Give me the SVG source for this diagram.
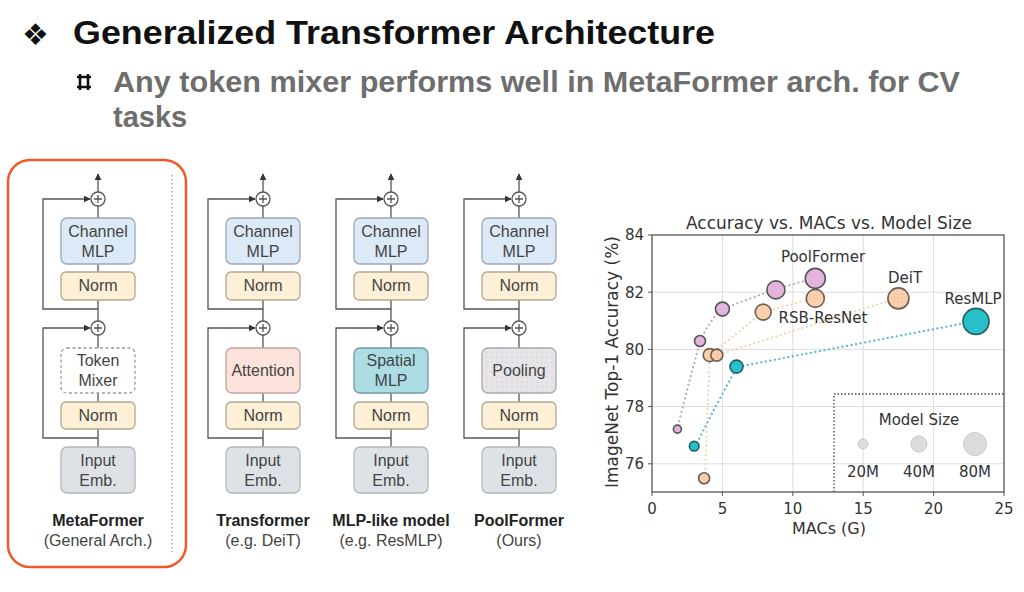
<svg xmlns="http://www.w3.org/2000/svg" width="1024" height="592" viewBox="0 0 1024 592">
<defs>
<marker id="ah" viewBox="0 0 10 10" refX="9" refY="5" markerWidth="7" markerHeight="7" markerUnits="userSpaceOnUse" orient="auto">
<path d="M0,0 L10,5 L0,10 z" fill="#333"/>
</marker>
<pattern id="pd" width="5" height="5" patternUnits="userSpaceOnUse">
<rect width="5" height="5" fill="#e6e6e8"/>
<circle cx="2" cy="2" r="0.6" fill="#e8a0d0"/>
</pattern>
<pattern id="od" width="4" height="4" patternUnits="userSpaceOnUse">
<rect width="4" height="4" fill="#f9cfae"/>
<circle cx="2" cy="2" r="0.5" fill="#e88a8a"/>
</pattern>
</defs>
<style>
.t{font-family:"Liberation Sans",Arial,sans-serif}
.bx{stroke-width:1.3}
.cm{fill:#dce9f6;stroke:#9aa8b8}
.nm{fill:#fdf0d6;stroke:#b3a88e}
.ie{fill:#dee2e7;stroke:#b2b7bd}
.at{fill:#fde3dc;stroke:#c0a49c}
.sp{fill:#acdde4;stroke:#6f9ca3}
.po{fill:url(#pd);stroke:#a9a9ad}
.tm{fill:#fff;stroke:#999;stroke-dasharray:3 2.5}
.bt{font-family:"Liberation Sans",Arial,sans-serif;font-size:16px;fill:#444;text-anchor:middle}
.lb{font-family:"Liberation Sans",Arial,sans-serif;font-size:16px;fill:#222;text-anchor:middle;font-weight:bold}
.ls{font-family:"Liberation Sans",Arial,sans-serif;font-size:16px;fill:#444;text-anchor:middle}
.ln{stroke:#555;stroke-width:1.3;fill:none}
.pl{fill:#fff;stroke:#555;stroke-width:1.3}
.ch{font-family:"DejaVu Sans",sans-serif;fill:#333}
.grid{stroke:#dcdcdc;stroke-width:1}
.dp{fill:none;stroke:#bfaabd;stroke-width:2.2;stroke-linecap:round;stroke-dasharray:0.1 4.5}
.dor{fill:none;stroke:#f6d3b0;stroke-width:2.2;stroke-linecap:round;stroke-dasharray:0.1 4.5}
.dt{fill:none;stroke:#5db6d6;stroke-width:2.2;stroke-linecap:round;stroke-dasharray:0.1 4.5}
.pk{fill:#e3b5dd;stroke:#555;stroke-width:1.6}
.or{fill:#f9cfae;stroke:#6d5d4e;stroke-width:1.6}
.tl{fill:#29c0cc;stroke:#1f5d63;stroke-width:1.6}
.lg{fill:#dcdcdc;stroke:#c9c9c9;stroke-width:1}
</style>

<g id="title">
<text x="22" y="45" font-family="DejaVu Sans,sans-serif" font-size="30" fill="#111">❖</text>
<text x="73" y="44" class="t" font-size="34" font-weight="bold" fill="#111" textLength="642" lengthAdjust="spacingAndGlyphs">Generalized Transformer Architecture</text>
<path d="M77,77 H91 M77,87 H91 M80,74 V90 M88,74 V90" stroke="#111" stroke-width="2.6" fill="none"/>
<text x="113" y="92" class="t" font-size="29" font-weight="bold" fill="#6e6e6e" textLength="847" lengthAdjust="spacingAndGlyphs">Any token mixer performs well in MetaFormer arch. for CV</text>
<text x="113" y="127" class="t" font-size="29" font-weight="bold" fill="#6e6e6e">tasks</text>
</g>

<g id="metaformer-frame">
<rect x="8" y="160" width="178" height="407" rx="22" fill="none" stroke="#f05a28" stroke-width="2.5"/>
<line x1="172" y1="175" x2="172" y2="552" stroke="#999" stroke-width="1.3" stroke-dasharray="1.5 2.5"/>
</g>

<g id="connectors">
<path class="ln" d="M98,192 V174" marker-end="url(#ah)"/>
<path class="ln" d="M98,206 V218 M98,264 V272 M98,300 V321 M98,335 V348 M98,393 V402 M98,429 V447"/>
<path class="ln" d="M98,309 H43 V199 H90" marker-end="url(#ah)"/>
<path class="ln" d="M98,438 H43 V328 H90" marker-end="url(#ah)"/>
<path class="ln" d="M263,192 V174" marker-end="url(#ah)"/>
<path class="ln" d="M263,206 V218 M263,264 V272 M263,300 V321 M263,335 V348 M263,393 V402 M263,429 V447"/>
<path class="ln" d="M263,309 H208 V199 H255" marker-end="url(#ah)"/>
<path class="ln" d="M263,438 H208 V328 H255" marker-end="url(#ah)"/>
<path class="ln" d="M391,192 V174" marker-end="url(#ah)"/>
<path class="ln" d="M391,206 V218 M391,264 V272 M391,300 V321 M391,335 V348 M391,393 V402 M391,429 V447"/>
<path class="ln" d="M391,309 H336 V199 H383" marker-end="url(#ah)"/>
<path class="ln" d="M391,438 H336 V328 H383" marker-end="url(#ah)"/>
<path class="ln" d="M519,192 V174" marker-end="url(#ah)"/>
<path class="ln" d="M519,206 V218 M519,264 V272 M519,300 V321 M519,335 V348 M519,393 V402 M519,429 V447"/>
<path class="ln" d="M519,309 H464 V199 H511" marker-end="url(#ah)"/>
<path class="ln" d="M519,438 H464 V328 H511" marker-end="url(#ah)"/>
</g>

<g id="metaformer">
<circle class="pl" cx="98" cy="199" r="7"/><path class="ln" d="M94,199 H102 M98,195 V203"/>
<circle class="pl" cx="98" cy="328" r="7"/><path class="ln" d="M94,328 H102 M98,324 V332"/>
<rect class="bx cm" x="61" y="218" width="74" height="46" rx="6"/>
<text class="bt" x="98" y="237">Channel</text><text class="bt" x="98" y="257">MLP</text>
<rect class="bx nm" x="61" y="272" width="74" height="28" rx="5"/>
<text class="bt" x="98" y="291">Norm</text>
<rect class="bx tm" x="61" y="348" width="74" height="45" rx="6"/>
<text class="bt" x="98" y="366">Token</text><text class="bt" x="98" y="386">Mixer</text>
<rect class="bx nm" x="61" y="402" width="74" height="27" rx="5"/>
<text class="bt" x="98" y="421">Norm</text>
<rect class="bx ie" x="61" y="447" width="74" height="46" rx="6"/>
<text class="bt" x="98" y="466">Input</text><text class="bt" x="98" y="486">Emb.</text>
<text class="lb" x="98" y="526">MetaFormer</text>
<text class="ls" x="98" y="546">(General Arch.)</text>
</g>

<g id="transformer">
<circle class="pl" cx="263" cy="199" r="7"/><path class="ln" d="M259,199 H267 M263,195 V203"/>
<circle class="pl" cx="263" cy="328" r="7"/><path class="ln" d="M259,328 H267 M263,324 V332"/>
<rect class="bx cm" x="226" y="218" width="74" height="46" rx="6"/>
<text class="bt" x="263" y="237">Channel</text><text class="bt" x="263" y="257">MLP</text>
<rect class="bx nm" x="226" y="272" width="74" height="28" rx="5"/>
<text class="bt" x="263" y="291">Norm</text>
<rect class="bx at" x="226" y="348" width="74" height="45" rx="6"/>
<text class="bt" x="263" y="376">Attention</text>
<rect class="bx nm" x="226" y="402" width="74" height="27" rx="5"/>
<text class="bt" x="263" y="421">Norm</text>
<rect class="bx ie" x="226" y="447" width="74" height="46" rx="6"/>
<text class="bt" x="263" y="466">Input</text><text class="bt" x="263" y="486">Emb.</text>
<text class="lb" x="263" y="526">Transformer</text>
<text class="ls" x="263" y="546">(e.g. DeiT)</text>
</g>

<g id="mlp-like">
<circle class="pl" cx="391" cy="199" r="7"/><path class="ln" d="M387,199 H395 M391,195 V203"/>
<circle class="pl" cx="391" cy="328" r="7"/><path class="ln" d="M387,328 H395 M391,324 V332"/>
<rect class="bx cm" x="354" y="218" width="74" height="46" rx="6"/>
<text class="bt" x="391" y="237">Channel</text><text class="bt" x="391" y="257">MLP</text>
<rect class="bx nm" x="354" y="272" width="74" height="28" rx="5"/>
<text class="bt" x="391" y="291">Norm</text>
<rect class="bx sp" x="354" y="348" width="74" height="45" rx="6"/>
<text class="bt" x="391" y="366">Spatial</text><text class="bt" x="391" y="386">MLP</text>
<rect class="bx nm" x="354" y="402" width="74" height="27" rx="5"/>
<text class="bt" x="391" y="421">Norm</text>
<rect class="bx ie" x="354" y="447" width="74" height="46" rx="6"/>
<text class="bt" x="391" y="466">Input</text><text class="bt" x="391" y="486">Emb.</text>
<text class="lb" x="391" y="526">MLP-like model</text>
<text class="ls" x="391" y="546">(e.g. ResMLP)</text>
</g>

<g id="poolformer">
<circle class="pl" cx="519" cy="199" r="7"/><path class="ln" d="M515,199 H523 M519,195 V203"/>
<circle class="pl" cx="519" cy="328" r="7"/><path class="ln" d="M515,328 H523 M519,324 V332"/>
<rect class="bx cm" x="482" y="218" width="74" height="46" rx="6"/>
<text class="bt" x="519" y="237">Channel</text><text class="bt" x="519" y="257">MLP</text>
<rect class="bx nm" x="482" y="272" width="74" height="28" rx="5"/>
<text class="bt" x="519" y="291">Norm</text>
<rect class="bx po" x="482" y="348" width="74" height="45" rx="6"/>
<text class="bt" x="519" y="376">Pooling</text>
<rect class="bx nm" x="482" y="402" width="74" height="27" rx="5"/>
<text class="bt" x="519" y="421">Norm</text>
<rect class="bx ie" x="482" y="447" width="74" height="46" rx="6"/>
<text class="bt" x="519" y="466">Input</text><text class="bt" x="519" y="486">Emb.</text>
<text class="lb" x="519" y="526">PoolFormer</text>
<text class="ls" x="519" y="546">(Ours)</text>
</g>

<g id="chart">
<text class="ch" x="829" y="229" font-size="17" text-anchor="middle">Accuracy vs. MACs vs. Model Size</text>
<rect x="652" y="235" width="352" height="257" fill="#fff"/>
<g class="grid">
<line x1="722.4" y1="235" x2="722.4" y2="492"/><line x1="792.8" y1="235" x2="792.8" y2="492"/>
<line x1="863.2" y1="235" x2="863.2" y2="492"/><line x1="933.6" y1="235" x2="933.6" y2="492"/>
<line x1="652" y1="292.2" x2="1004" y2="292.2"/><line x1="652" y1="349.4" x2="1004" y2="349.4"/>
<line x1="652" y1="406.6" x2="1004" y2="406.6"/><line x1="652" y1="463.8" x2="1004" y2="463.8"/>
</g>
<rect x="652" y="235" width="352" height="257" fill="none" stroke="#555" stroke-width="1.3"/>
<g stroke="#555" stroke-width="1">
<line x1="648" y1="235" x2="652" y2="235"/><line x1="648" y1="292.2" x2="652" y2="292.2"/><line x1="648" y1="349.4" x2="652" y2="349.4"/><line x1="648" y1="406.6" x2="652" y2="406.6"/><line x1="648" y1="463.8" x2="652" y2="463.8"/>
<line x1="652" y1="492" x2="652" y2="496"/><line x1="722.4" y1="492" x2="722.4" y2="496"/><line x1="792.8" y1="492" x2="792.8" y2="496"/><line x1="863.2" y1="492" x2="863.2" y2="496"/><line x1="933.6" y1="492" x2="933.6" y2="496"/><line x1="1004" y1="492" x2="1004" y2="496"/>
</g>
<g class="ch" font-size="15" text-anchor="end">
<text x="644" y="240">84</text><text x="644" y="298">82</text><text x="644" y="355">80</text><text x="644" y="412">78</text><text x="644" y="469">76</text>
</g>
<g class="ch" font-size="15" text-anchor="middle">
<text x="652" y="514">0</text><text x="722.4" y="514">5</text><text x="792.8" y="514">10</text><text x="863.2" y="514">15</text><text x="933.6" y="514">20</text><text x="1004" y="514">25</text>
</g>
<text class="ch" x="829" y="534" font-size="16" text-anchor="middle">MACs (G)</text>
<text class="ch" transform="translate(618,362) rotate(-90)" font-size="17" text-anchor="middle">ImageNet Top-1 Accuracy (%)</text>

<path class="dp" d="M677,430 Q688,385 700,342 Q708,322 722,309 L776,289 L815,278"/>
<path class="dor" d="M705,478 L707,420 L710,355 L763,312 L815,298"/>
<path class="dor" d="M710,355 L717,355 L898,298"/>
<path class="dt" d="M695,447 Q716,405 737,367 L976,321"/>

<circle class="pk" cx="677.4" cy="429.1" r="4"/>
<circle class="tl" cx="694.2" cy="446.2" r="4.8"/>
<circle class="or" cx="704.1" cy="478.3" r="5.5"/>
<circle class="pk" cx="700" cy="341" r="5.5"/>
<circle class="or" cx="709.7" cy="355.1" r="6.5"/>
<circle fill="url(#od)" stroke="#6d5d4e" stroke-width="1.6" cx="716.8" cy="355.1" r="6"/>
<circle class="pk" cx="722.4" cy="309.1" r="7"/>
<circle class="tl" cx="736.5" cy="366.6" r="6.5"/>
<circle class="or" cx="763.2" cy="312.1" r="8"/>
<circle class="pk" cx="775.9" cy="289.9" r="9"/>
<circle class="or" cx="815.3" cy="298.4" r="9"/>
<circle class="pk" cx="815.3" cy="278.4" r="10"/>
<circle fill="url(#od)" stroke="#6d5d4e" stroke-width="1.6" cx="898.4" cy="298.4" r="10.5"/>
<circle class="tl" cx="976" cy="321.4" r="13"/>

<text class="ch" x="823" y="262" font-size="15" text-anchor="middle">PoolFormer</text>
<text class="ch" x="823" y="323" font-size="15" text-anchor="middle">RSB-ResNet</text>
<text class="ch" x="905" y="283" font-size="15" text-anchor="middle">DeiT</text>
<text class="ch" x="973" y="304" font-size="15" text-anchor="middle">ResMLP</text>

<path d="M834,492 V394 H1004" fill="none" stroke="#444" stroke-width="1.3" stroke-dasharray="1.5 2"/>
<text class="ch" x="919" y="425" font-size="15" text-anchor="middle">Model Size</text>
<circle class="lg" cx="863" cy="444" r="5"/>
<circle class="lg" cx="919" cy="444" r="8"/>
<circle class="lg" cx="975" cy="444" r="11.5"/>
<g class="ch" font-size="15" text-anchor="middle">
<text x="863" y="477">20M</text><text x="919" y="477">40M</text><text x="975" y="477">80M</text>
</g>
</g>
</svg>
